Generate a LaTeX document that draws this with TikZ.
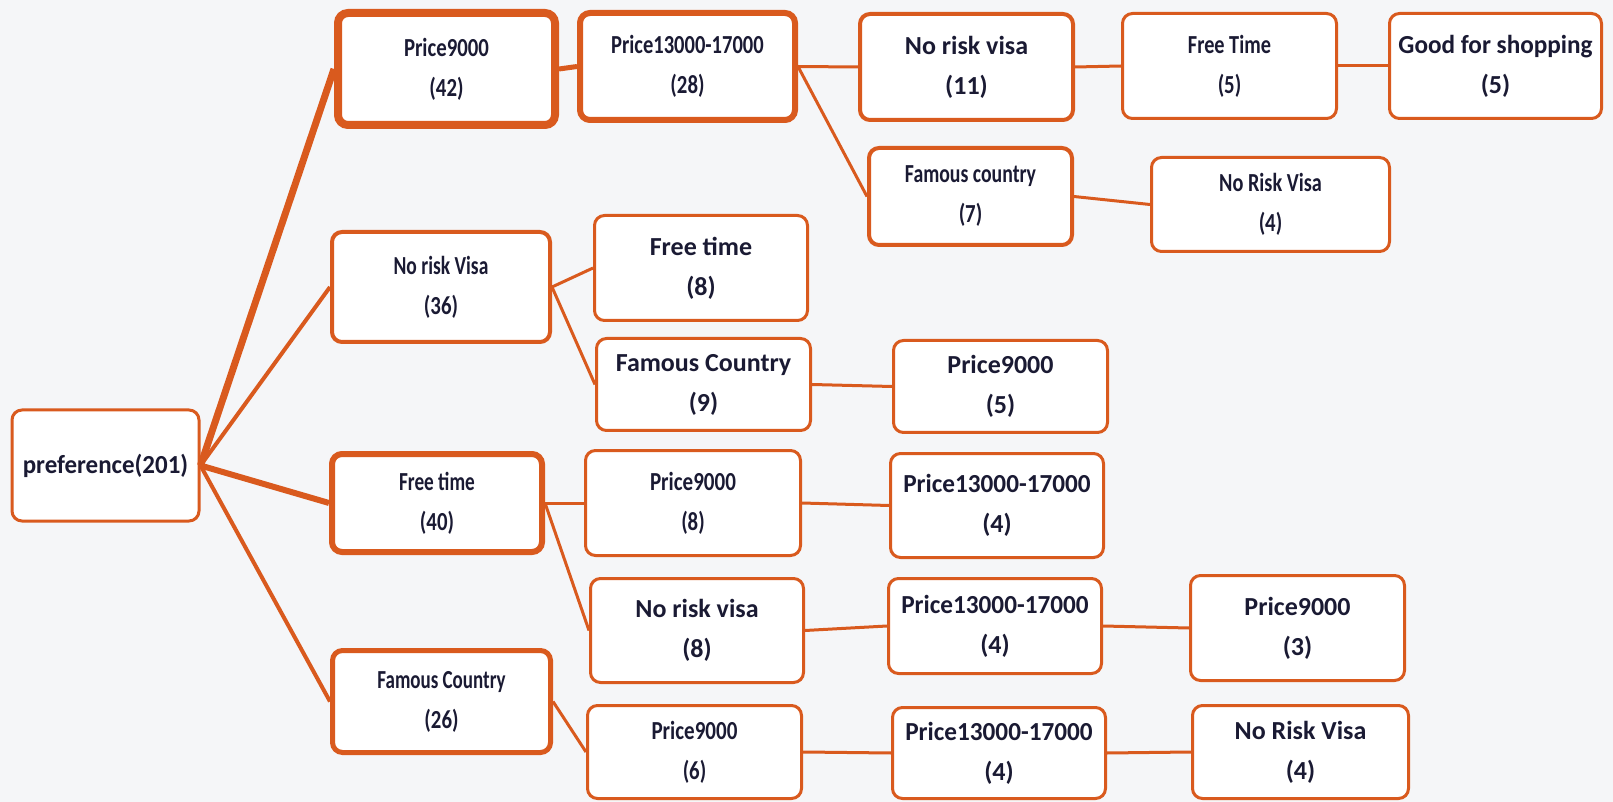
\documentclass[tikz,border=0pt]{standalone}
\usepackage{fontspec}
\setmainfont{Carlito}
\usepackage{graphicx}
\usetikzlibrary{positioning}
\definecolor{Rust}{HTML}{D95A1E}
\definecolor{Ink}{HTML}{1A1A33}
\definecolor{Paper}{HTML}{F5F6F8}
\newcommand\tight[2][0.8]{\scalebox{#1}[1]{#2}}

\begin{document}
\begin{tikzpicture}[
    x=0.5pt, y=-0.5pt,
    optBox/.style={draw=Rust, line width=1.5pt, rounded corners=5pt, fill=white, text=Ink,
      align=center, font=\fontsize{13}{20}\selectfont\bfseries, inner sep=2pt,
      minimum width=107pt, minimum height=52pt},
    link/.style={draw=Rust, line width=1.5pt},
  ]
  \fill[Paper] (0,0) rectangle (1613,802);
  \useasboundingbox (0,0) rectangle (1613,802);

  % root
  \node[optBox, minimum width=93.5pt, minimum height=55.5pt] (pref) at (105.5,465.5) {\tight[0.96]{preference(201)}};

  % first level
  \node[optBox, line width=4pt, minimum width=108.5pt, minimum height=56pt] (price42) at (446.5,69) {\tight[0.8]{Price9000}\\\tight{(42)}};
  \node[optBox, line width=2pt, minimum width=109pt, minimum height=55pt] (visa36) at (441,287) {\tight[0.75]{No risk Visa}\\\tight{(36)}};
  \node[optBox, line width=3pt, minimum width=105pt, minimum height=49pt] (free40) at (437,503) {\tight[0.74]{Free time}\\\tight{(40)}};
  \node[optBox, line width=2.5pt, minimum width=109pt, minimum height=51pt] (famous26) at (441.5,701.5) {\tight[0.73]{Famous Country}\\\tight{(26)}};

  % second level
  \node[optBox, line width=3pt, minimum width=107.5pt, minimum height=53.5pt] (price28) at (687.5,66.5) {\tight[0.79]{Price13000-17000}\\\tight{(28)}};
  \node[optBox, minimum width=106.5pt, minimum height=52.5pt] (free8) at (701,268) {Free time\\(8)};
  \node[optBox, minimum height=46pt] (famous9) at (703.5,384.5) {Famous Country\\(9)};
  \node[optBox, minimum width=107.5pt, minimum height=52.5pt] (price8) at (693,503) {\tight[0.81]{Price9000}\\\tight{(8)}};
  \node[optBox, minimum width=106.5pt] (visa8) at (697,630.5) {No risk visa\\(8)};
  \node[optBox, minimum height=46.5pt] (price6) at (694.5,752) {\tight[0.81]{Price9000}\\\tight{(6)}};

  % third level
  \node[optBox, line width=2pt, minimum width=106.5pt, minimum height=53pt] (visa11) at (966.5,67) {No risk visa\\(11)};
  \node[optBox, line width=2pt, minimum width=101.5pt, minimum height=48.5pt] (famous7) at (970.5,196.5) {\tight[0.76]{Famous country}\\\tight{(7)}};
  \node[optBox, minimum height=46pt] (price5) at (1000.5,386.5) {Price9000\\(5)};
  \node[optBox, minimum width=106.5pt] (price4a) at (997,505.5) {\tight[0.97]{Price13000-17000}\\(4)};
  \node[optBox, minimum width=106.5pt, minimum height=47.5pt] (price4b) at (995,626) {\tight[0.97]{Price13000-17000}\\(4)};
  \node[optBox, minimum width=106.5pt, minimum height=45.5pt] (price4c) at (999,753) {\tight[0.97]{Price13000-17000}\\(4)};

  % fourth and fifth level
  \node[optBox, minimum height=52.5pt] (free5) at (1229.5,66) {\tight[0.78]{Free Time}\\\tight{(5)}};
  \node[optBox, minimum width=119pt, minimum height=47pt] (visa4a) at (1270.5,204.5) {\tight[0.78]{No Risk Visa}\\\tight{(4)}};
  \node[optBox, minimum height=52.5pt] (price3) at (1297.5,628) {Price9000\\(3)};
  \node[optBox, minimum width=108pt, minimum height=46.5pt] (visa4b) at (1300.5,752) {No Risk Visa\\(4)};
  \node[optBox, minimum width=106pt, minimum height=52.5pt] (shop5) at (1495.5,66) {\tight[0.97]{Good for shopping}\\(5)};

  % lines
  \draw[link, line width=3.5pt] (pref.east) -- (price42.west);
  \draw[link, line width=2pt] (pref.east) -- (visa36.west);
  \draw[link, line width=3pt] (pref.east) -- (free40.west);
  \draw[link, line width=2pt] (pref.east) -- (famous26.west);
  \draw[link, line width=2.5pt] (price42.east) -- (price28.west);
  \foreach \from/\to in {price28/visa11, price28/famous7, visa11/free5, free5/shop5,
      famous7/visa4a, visa36/free8, visa36/famous9, famous9/price5,
      free40/price8, free40/visa8, price8/price4a, visa8/price4b, price4b/price3,
      famous26/price6, price6/price4c, price4c/visa4b}
    \draw[link] (\from.east) -- (\to.west);
\end{tikzpicture}
\end{document}
